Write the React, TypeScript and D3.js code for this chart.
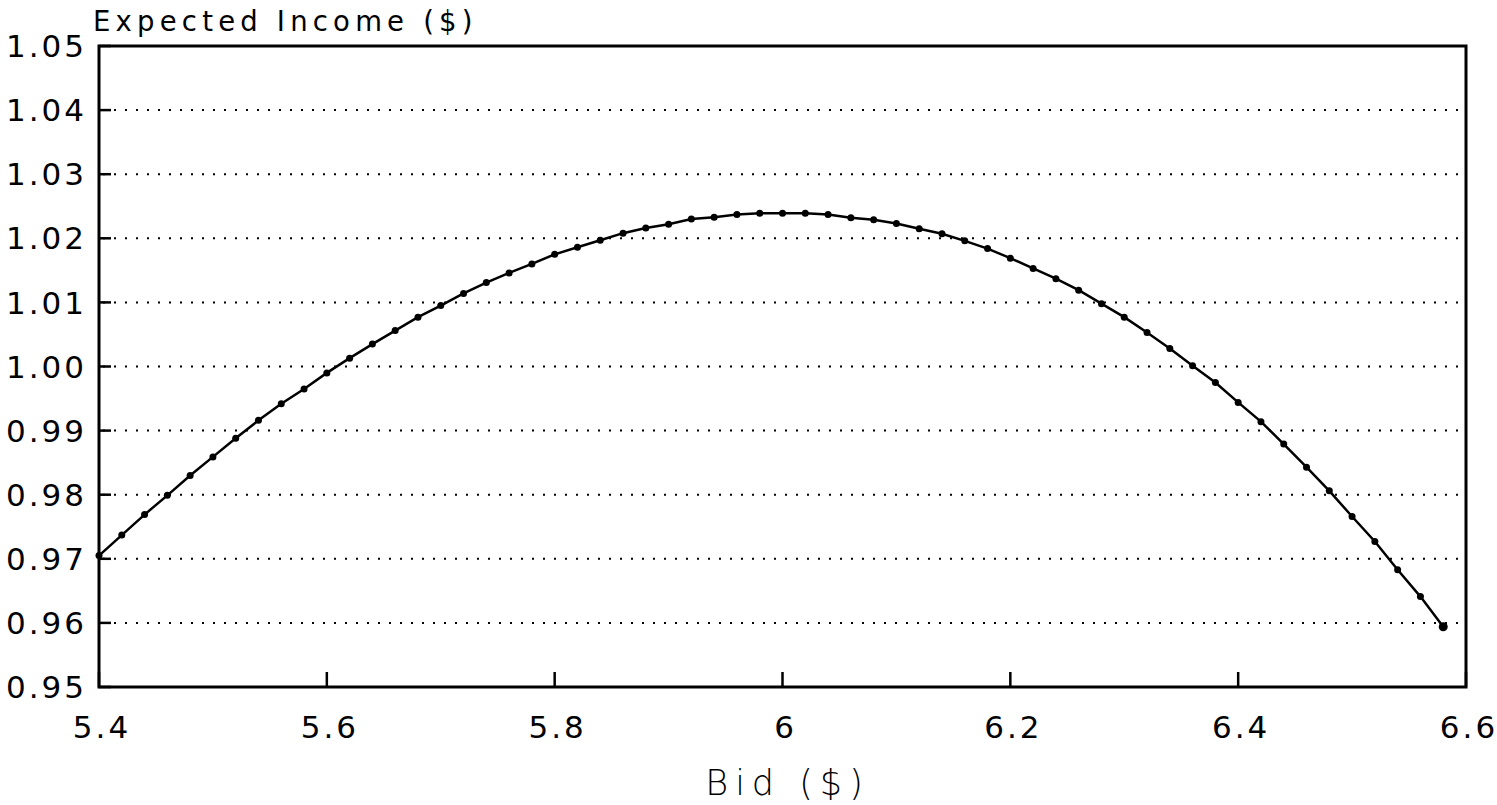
import React, { useRef, useEffect } from 'react';
import * as d3 from 'd3';

// bid values ($), step of 0.02
const bids = [
  5.40, 5.42, 5.44, 5.46, 5.48, 5.50, 5.52, 5.54, 5.56, 5.58,
  5.60, 5.62, 5.64, 5.66, 5.68, 5.70, 5.72, 5.74, 5.76, 5.78,
  5.80, 5.82, 5.84, 5.86, 5.88, 5.90, 5.92, 5.94, 5.96, 5.98,
  6.00, 6.02, 6.04, 6.06, 6.08, 6.10, 6.12, 6.14, 6.16, 6.18,
  6.20, 6.22, 6.24, 6.26, 6.28, 6.30, 6.32, 6.34, 6.36, 6.38,
  6.40, 6.42, 6.44, 6.46, 6.48, 6.50, 6.52, 6.54, 6.56, 6.58,
];

// expected income ($)
const income = [
  0.9705, 0.9737, 0.9769, 0.9799, 0.9830, 0.9859, 0.9888, 0.9916, 0.9942, 0.9965,
  0.9990, 1.0013, 1.0035, 1.0056, 1.0077, 1.0095, 1.0114, 1.0131, 1.0146, 1.0160,
  1.0175, 1.0186, 1.0197, 1.0208, 1.0216, 1.0222, 1.0230, 1.0233, 1.0237, 1.0239,
  1.0239, 1.0239, 1.0237, 1.0232, 1.0229, 1.0223, 1.0215, 1.0207, 1.0196, 1.0184,
  1.0169, 1.0153, 1.0137, 1.0119, 1.0098, 1.0077, 1.0053, 1.0028, 1.0001, 0.9975,
  0.9944, 0.9914, 0.9879, 0.9843, 0.9806, 0.9766, 0.9727, 0.9683, 0.9641, 0.9594,
];

const xTicks = [5.4, 5.6, 5.8, 6.0, 6.2, 6.4, 6.6];
const xTickLabels = ['5.4', '5.6', '5.8', '6', '6.2', '6.4', '6.6'];
const yTicks = [0.95, 0.96, 0.97, 0.98, 0.99, 1.0, 1.01, 1.02, 1.03, 1.04, 1.05];
const yTickLabels = ['0.95', '0.96', '0.97', '0.98', '0.99', '1.00', '1.01', '1.02', '1.03', '1.04', '1.05'];

const W = 1497;
const H = 805;
const margin = { top: 46, right: 31, bottom: 118, left: 99 };
const FONT = '"DejaVu Sans", Verdana, sans-serif';

const Chart = () => {
  const ref = useRef<SVGSVGElement>(null);

  useEffect(() => {
    document.body.style.margin = '0';
    const svg = d3.select(ref.current);
    svg.selectAll('*').remove();

    const x = d3.scaleLinear().domain([5.4, 6.6]).range([margin.left, W - margin.right]);
    const y = d3.scaleLinear().domain([0.95, 1.05]).range([H - margin.bottom, margin.top]);
    const data = bids.map((b, i) => ({ b, v: income[i] }));

    // dotted grid lines
    svg.append('g')
      .selectAll('line')
      .data(yTicks.slice(1, -1))
      .join('line')
      .attr('x1', x(5.4) + 4)
      .attr('x2', x(6.6))
      .attr('y1', d => y(d))
      .attr('y2', d => y(d))
      .attr('stroke', '#000')
      .attr('stroke-width', 2)
      .attr('stroke-dasharray', '2 9');

    // y tick marks
    svg.append('g')
      .selectAll('line')
      .data(yTicks)
      .join('line')
      .attr('x1', x(5.4))
      .attr('x2', x(5.4) + 12)
      .attr('y1', d => y(d))
      .attr('y2', d => y(d))
      .attr('stroke', '#000')
      .attr('stroke-width', 2.5);

    // x tick marks
    svg.append('g')
      .selectAll('line')
      .data(xTicks)
      .join('line')
      .attr('x1', d => x(d))
      .attr('x2', d => x(d))
      .attr('y1', y(0.95))
      .attr('y2', y(0.95) - 15)
      .attr('stroke', '#000')
      .attr('stroke-width', 2.5);

    // frame
    svg.append('rect')
      .attr('x', x(5.4))
      .attr('y', y(1.05))
      .attr('width', x(6.6) - x(5.4))
      .attr('height', y(0.95) - y(1.05))
      .attr('fill', 'none')
      .attr('stroke', '#000')
      .attr('stroke-width', 3);

    // y tick labels
    svg.append('g')
      .selectAll('text')
      .data(yTicks)
      .join('text')
      .attr('x', x(5.4) - 12)
      .attr('y', d => y(d))
      .attr('dy', '0.36em')
      .attr('text-anchor', 'end')
      .attr('font-family', FONT)
      .attr('font-size', 31)
      .attr('letter-spacing', 3)
      .text((d, i) => yTickLabels[i]);

    // x tick labels
    svg.append('g')
      .selectAll('text')
      .data(xTicks)
      .join('text')
      .attr('x', d => x(d) + 3)
      .attr('y', y(0.95) + 51)
      .attr('text-anchor', 'middle')
      .attr('font-family', FONT)
      .attr('font-size', 31)
      .attr('letter-spacing', 3)
      .text((d, i) => xTickLabels[i]);

    // curve
    const line = d3.line<{ b: number; v: number }>()
      .x(d => x(d.b))
      .y(d => y(d.v));

    svg.append('path')
      .datum(data)
      .attr('d', line)
      .attr('fill', 'none')
      .attr('stroke', '#000')
      .attr('stroke-width', 2.5);

    svg.append('g')
      .selectAll('circle')
      .data(data)
      .join('circle')
      .attr('cx', d => x(d.b))
      .attr('cy', d => y(d.v))
      .attr('r', (d, i) => (i === data.length - 1 ? 4.5 : 3.5))
      .attr('fill', '#000');

    // axis titles
    svg.append('text')
      .attr('x', 93)
      .attr('y', 31)
      .attr('font-family', FONT)
      .attr('font-size', 27.5)
      .attr('letter-spacing', 5.2)
      .text('Expected Income ($)');

    svg.append('text')
      .attr('x', (x(5.4) + x(6.6)) / 2 + 5)
      .attr('y', 795)
      .attr('text-anchor', 'middle')
      .attr('font-family', FONT)
      .attr('font-size', 35)
      .attr('font-weight', 200)
      .attr('letter-spacing', 7)
      .text('Bid ($)');

    return () => {
      svg.selectAll('*').remove();
    };
  }, []);

  return <svg ref={ref} width={W} height={H} style={{ display: 'block', background: '#fff' }}></svg>;
};

export default function App() {
  return <Chart />;
}
